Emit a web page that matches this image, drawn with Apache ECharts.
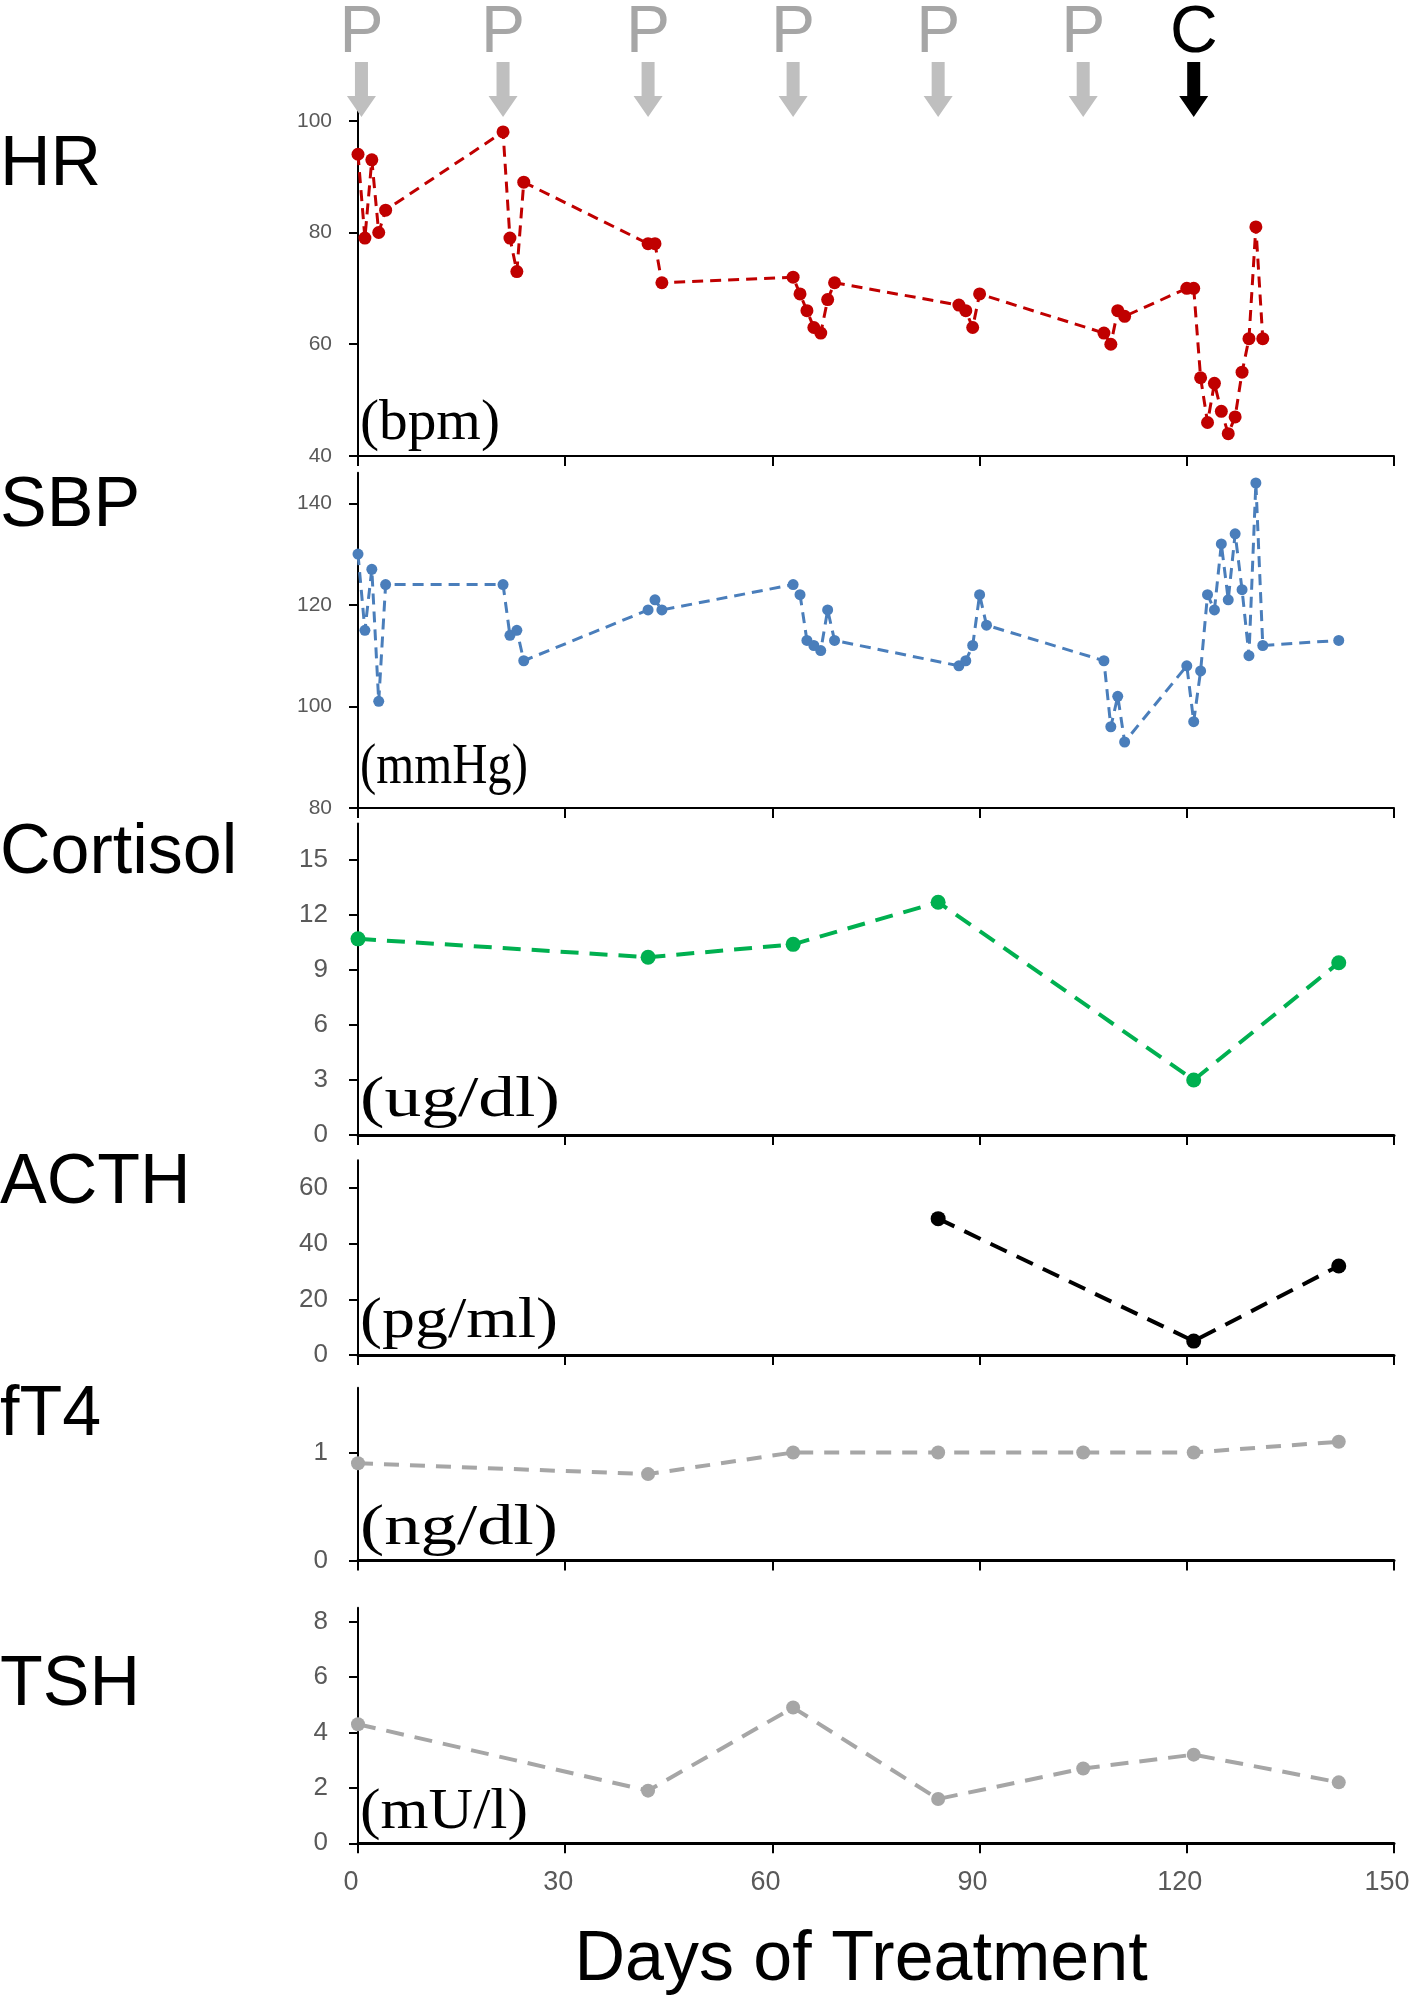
<!DOCTYPE html>
<html><head><meta charset="utf-8">
<script src="https://cdn.jsdelivr.net/npm/echarts@6/dist/echarts.min.js"></script>
<style>html,body{margin:0;padding:0;background:#fff}#chart{width:1418px;height:2000px}</style>
</head><body><div id="chart"></div>
<script>
// ---------- data ----------
const xTicks = [0, 30, 60, 90, 120, 150];
const arrowDays = [0.5, 21, 42, 63, 84, 105, 121];
const arrowLabels = ['P', 'P', 'P', 'P', 'P', 'P', 'C'];

const hrDays = [0,1,2,3,4, 21,22,23,24, 42,43,44, 63,64,65,66,67,68,69, 87,88,89,90, 108,109,110,111, 120,121,122,123,124,125,126,127,128,129,130,131];
const hrValues = [94,79,93,80,84, 98,79,73,89, 78,78,71, 72,69,66,63,62,68,71, 67,66,63,69, 62,60,66,65, 70,70,54,46,53,48,44,47,55,61,81,61];

const sbpDays = [0,1,2,3,4, 21,22,23,24, 42,43,44, 63,64,65,66,67,68,69, 87,88,89,90,91, 108,109,110,111, 120,121,122,123,124,125,126,127,128,129,130,131, 142];
const sbpValues = [130,115,127,101,124, 124,114,115,109, 119,121,119, 124,122,113,112,111,119,113, 108,109,112,122,116, 109,96,102,93, 108,97,107,122,119,132,121,134,123,110,144,112, 113];

const cortisolDays = [0, 42, 63, 84, 121, 142];
const cortisolValues = [10.7, 9.7, 10.4, 12.7, 3.0, 9.4];

const acthDays = [84, 121, 142];
const acthValues = [49, 5, 32];

const ft4Days = [0, 42, 63, 84, 105, 121, 142];
const ft4Values = [0.9, 0.8, 1.0, 1.0, 1.0, 1.0, 1.1];

const tshDays = [0, 42, 63, 84, 105, 121, 142];
const tshValues = [4.3, 1.9, 4.9, 1.6, 2.7, 3.2, 2.2];

const panelNames = ['HR', 'SBP', 'Cortisol', 'ACTH', 'fT4', 'TSH'];
const panelUnits = ['(bpm)', '(mmHg)', '(ug/dl)', '(pg/ml)', '(ng/dl)', '(mU/l)'];
const hrTicks = [40, 60, 80, 100];
const sbpTicks = [80, 100, 120, 140];
const cortisolTicks = [0, 3, 6, 9, 12, 15];
const acthTicks = [0, 20, 40, 60];
const ft4Ticks = [0, 1];
const tshTicks = [0, 2, 4, 6, 8];

// ---------- layout / style ----------
const LEFT = 358, RIGHT = 24;
const panels = [
  {days: hrDays, vals: hrValues, ticks: hrTicks, min: 40, max: 102, y0: 456, ppu: 5.588, color: '#C00000', lw: 3, dash: [11, 7], sym: 13, axW: 2, lblSize: 21, lblMargin: 26, nameY: 163, unitY: 421, unitW: 140},
  {days: sbpDays, vals: sbpValues, ticks: sbpTicks, min: 80, max: 146, y0: 808, ppu: 5.078, color: '#4A7EBB', lw: 3, dash: [11, 7], sym: 11, axW: 2, lblSize: 21, lblMargin: 26, nameY: 504, unitY: 765, unitW: 168},
  {days: cortisolDays, vals: cortisolValues, ticks: cortisolTicks, min: 0, max: 17, y0: 1135, ppu: 18.33, color: '#00B050', lw: 4, dash: [18, 11], sym: 15, axW: 3, lblSize: 26, lblMargin: 30, nameY: 851, unitY: 1098, unitW: 200},
  {days: acthDays, vals: acthValues, ticks: acthTicks, min: 0, max: 70, y0: 1355, ppu: 2.783, color: '#000000', lw: 4, dash: [18, 11], sym: 15, axW: 3, lblSize: 26, lblMargin: 30, nameY: 1181, unitY: 1319, unitW: 198},
  {days: ft4Days, vals: ft4Values, ticks: ft4Ticks, min: 0, max: 1.6, y0: 1560.5, ppu: 108, color: '#A6A6A6', lw: 4, dash: [15, 11], sym: 14, axW: 3, lblSize: 26, lblMargin: 30, nameY: 1413, unitY: 1526, unitW: 198},
  {days: tshDays, vals: tshValues, ticks: tshTicks, min: 0, max: 8.5, y0: 1843.3, ppu: 27.7, color: '#A6A6A6', lw: 4, dash: [18, 11], sym: 14, axW: 3, lblSize: 26, lblMargin: 30, nameY: 1683, unitY: 1810, unitW: 168}
];

const grids = [], xAxes = [], yAxes = [], series = [], graphics = [];
const sans = '"Liberation Sans", Arial, sans-serif';
const serif = '"Liberation Serif", "Times New Roman", serif';
const unitFont = '58px ' + serif;
const mctx = document.createElement('canvas').getContext('2d');
mctx.font = unitFont;

panels.forEach((p, i) => {
  const h = (p.max - p.min) * p.ppu;
  grids.push({left: LEFT, right: RIGHT, top: p.y0 - h, height: h, containLabel: false});
  const isLast = i === panels.length - 1;
  xAxes.push({
    type: 'value', gridIndex: i, min: 0, max: 150, interval: 30,
    axisLine: {show: true, onZero: false, lineStyle: {color: '#000', width: p.axW}},
    axisTick: {show: true, inside: false, length: 10, lineStyle: {color: '#000', width: 2}},
    axisLabel: {show: isLast, color: '#595959', fontSize: 27, fontFamily: sans, margin: 26, padding: [0, 14, 0, 0]},
    splitLine: {show: false}
  });
  yAxes.push({
    type: 'value', gridIndex: i, min: p.min, max: p.max,
    axisLine: {show: true, onZero: false, lineStyle: {color: '#000', width: 2}},
    axisTick: {show: true, inside: false, length: 9, customValues: p.ticks, lineStyle: {color: '#000', width: 2}},
    axisLabel: {show: true, customValues: p.ticks, color: '#595959', fontSize: p.lblSize, fontFamily: sans, margin: p.lblMargin,
      formatter: v => (p.ticks.indexOf(v) >= 0 ? String(v) : '')},
    splitLine: {show: false}
  });
  series.push({
    type: 'line', xAxisIndex: i, yAxisIndex: i,
    data: p.days.map((d, k) => [d, p.vals[k]]),
    symbol: 'circle', symbolSize: p.sym, showSymbol: true,
    itemStyle: {color: p.color, borderWidth: 0},
    lineStyle: {color: p.color, width: p.lw, type: p.dash},
    emphasis: {disabled: true}, silent: true, clip: false
  });
  graphics.push({type: 'text', x: 0, y: p.nameY + 3, style: {text: panelNames[i], font: '70px ' + sans, fill: '#000', align: 'left', verticalAlign: 'middle'}});
  const w = mctx.measureText(panelUnits[i]).width || p.unitW;
  graphics.push({type: 'text', x: LEFT + 2, y: p.unitY + 3, scaleX: p.unitW / w, originX: 0, originY: 0,
    style: {text: panelUnits[i], font: unitFont, fill: '#000', align: 'left', verticalAlign: 'middle'}});
});

// arrow strip (uses its own x axis with the same day scale)
const ai = panels.length;
grids.push({left: LEFT, right: RIGHT, top: 0, height: 120});
xAxes.push({type: 'value', gridIndex: ai, min: 0, max: 150, show: false});
yAxes.push({type: 'value', gridIndex: ai, min: 0, max: 1, show: false});
series.push({
  type: 'custom', xAxisIndex: ai, yAxisIndex: ai, silent: true,
  data: arrowDays.map(d => [d, 0]),
  renderItem: (params, api) => {
    const x = api.coord([api.value(0), 0])[0];
    const lab = arrowLabels[params.dataIndex];
    const isC = lab === 'C';
    const col = isC ? '#000000' : '#BFBFBF';
    return {type: 'group', children: [
      {type: 'polygon', shape: {points: [[x - 6.5, 62], [x + 6.5, 62], [x + 6.5, 96], [x + 14.5, 96], [x, 117], [x - 14.5, 96], [x - 6.5, 96]]}, style: {fill: col}},
      {type: 'text', style: {text: lab, x: x, y: 34, align: 'center', verticalAlign: 'middle', font: '66px ' + sans, fill: isC ? '#000000' : '#A6A6A6'}}
    ]};
  }
});

graphics.push({type: 'text', x: 861, y: 1961, style: {text: 'Days of Treatment', font: '70px ' + sans, fill: '#000', align: 'center', verticalAlign: 'middle'}});

const chart = echarts.init(document.getElementById('chart'), null, {renderer: 'canvas'});
chart.setOption({
  animation: false,
  backgroundColor: '#ffffff',
  grid: grids, xAxis: xAxes, yAxis: yAxes, series: series,
  graphic: graphics
});
</script>
</body></html>
